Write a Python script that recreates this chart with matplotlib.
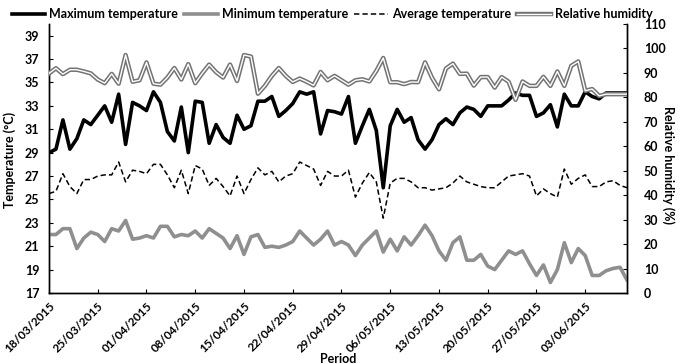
import matplotlib
matplotlib.use("Agg")
import matplotlib.pyplot as plt
import matplotlib.dates as mdates
from matplotlib.lines import Line2D
from matplotlib.legend_handler import HandlerTuple
import pandas as pd

plt.rcParams['font.family'] = ['Lato', 'DejaVu Sans']
plt.rcParams['font.weight'] = 'bold'

start_date = "2015-03-18"

t_max = [29.0, 29.3, 31.8, 29.3, 30.2, 31.8, 31.4, 32.2, 33.0, 31.6,
         34.0, 29.7, 33.3, 33.0, 32.6, 34.2, 33.3, 30.8, 30.0, 32.9,
         29.0, 33.4, 33.3, 29.8, 31.4, 30.3, 29.8, 32.2, 31.0, 31.3,
         33.4, 33.4, 33.8, 32.1, 32.6, 33.2, 34.2, 34.0, 34.2, 30.6,
         32.6, 32.5, 32.3, 33.8, 29.8, 31.3, 32.7, 30.9, 26.0, 31.3,
         32.7, 31.6, 32.0, 30.1, 29.3, 30.1, 31.4, 31.9, 31.4, 32.4,
         32.9, 32.7, 32.1, 33.0, 33.0, 33.0, 33.5, 34.1, 33.9, 33.9,
         32.1, 32.4, 33.1, 31.2, 34.0, 33.0, 33.0, 34.2, 33.8, 33.6,
         34.1, 34.1, 34.1, 34.1]

t_min = [22.0, 22.0, 22.5, 22.5, 20.8, 21.7, 22.2, 22.0, 21.4, 22.5,
         22.3, 23.2, 21.6, 21.7, 21.9, 21.7, 22.7, 22.7, 21.8, 22.0,
         21.9, 22.3, 21.7, 22.5, 22.1, 21.7, 20.8, 21.9, 20.3, 21.8,
         22.0, 20.9, 21.0, 20.9, 21.1, 21.4, 22.3, 21.7, 21.1, 21.6,
         22.3, 21.1, 21.4, 21.1, 20.2, 21.1, 21.7, 22.3, 20.5, 21.6,
         20.6, 21.8, 21.1, 21.9, 22.8, 21.9, 20.6, 19.8, 21.3, 21.8,
         19.8, 19.8, 20.3, 19.3, 19.0, 19.8, 20.6, 20.3, 20.6, 19.5,
         18.5, 19.4, 17.9, 19.0, 21.3, 19.6, 20.8, 20.2, 18.5, 18.5,
         18.9, 19.1, 19.2, 18.1]

t_avg = [25.5, 25.7, 27.2, 26.1, 25.5, 26.7, 26.7, 27.0, 27.1, 27.1,
         28.2, 26.5, 27.5, 27.4, 27.2, 28.0, 28.0, 27.1, 26.0, 27.5,
         25.5, 27.9, 27.6, 26.2, 26.8, 26.1, 25.3, 27.0, 25.5, 26.7,
         27.7, 27.1, 27.4, 26.5, 27.0, 27.2, 28.2, 27.9, 27.6, 26.2,
         27.4, 27.0, 27.0, 27.5, 25.2, 26.4, 27.3, 26.5, 23.4, 26.4,
         26.8, 26.8, 26.5, 26.0, 26.0, 25.8, 25.9, 26.0, 26.4, 27.0,
         26.5, 26.3, 26.1, 26.0, 26.0, 26.5, 27.0, 27.1, 27.2, 27.0,
         25.3, 25.9, 25.5, 25.2, 27.6, 26.3, 26.8, 27.1, 26.1, 26.1,
         26.5, 26.6, 26.2, 26.0]

rh = [89.8, 91.9, 89.5, 91.3, 91.3, 90.6, 89.8, 87.3, 85.8, 89.6,
      85.6, 97.3, 86.4, 87.0, 94.3, 85.6, 85.2, 88.1, 92.0, 87.3,
      93.6, 85.8, 89.8, 93.4, 90.3, 88.1, 93.4, 86.7, 97.3, 96.7,
      81.5, 84.7, 88.8, 92.0, 88.8, 86.3, 87.7, 86.4, 84.9, 90.4,
      87.0, 88.8, 87.0, 85.2, 87.0, 87.4, 86.5, 90.8, 96.1, 86.2,
      86.2, 85.4, 86.3, 86.2, 94.3, 88.0, 83.3, 91.8, 93.8, 89.6,
      89.7, 84.8, 88.3, 88.3, 84.0, 88.3, 86.4, 79.0, 86.5, 84.7,
      84.7, 88.4, 84.7, 90.6, 84.7, 92.9, 94.7, 82.7, 83.4, 80.6,
      81.3, 81.3, 81.3, 81.3]

temp_ticks = list(range(17, 40, 2))
rh_ticks = list(range(0, 111, 10))

dates = pd.date_range(start_date, periods=len(t_max), freq="D")

fig = plt.figure(figsize=(6.78, 3.64), dpi=100)
ax1 = fig.add_axes([49/678, 1-293/364, (627-49)/678, (293-24)/364])
ax2 = ax1.twinx()

ax1.plot(dates, t_max, color='black', lw=2.6, zorder=3)
ax1.plot(dates, t_min, color='#8f8f8f', lw=2.6, zorder=3)
ax1.plot(dates, t_avg, color='black', lw=1.1, ls=(0, (3.5, 2)), zorder=3)
ax2.plot(dates, rh, color='#737373', lw=3.2, zorder=3)
ax2.plot(dates, rh, color='white', lw=1.0, zorder=4)

ax1.set_xlim(dates[0], dates[-1])
ax1.set_ylim(17, 40)
ax2.set_ylim(0, 110)
ax1.set_yticks(temp_ticks)
ax2.set_yticks(rh_ticks)
ax1.set_xticks(dates[::7])
ax1.xaxis.set_major_formatter(mdates.DateFormatter('%d/%m/%Y'))

for lab in ax1.get_xticklabels():
    lab.set_rotation(45)
    lab.set_ha('right')
    lab.set_rotation_mode('anchor')
    lab.set_fontsize(8.5)
    lab.set_fontweight('bold')

ax1.tick_params(axis='x', direction='in', length=3, pad=5)
ax1.tick_params(axis='y', direction='in', length=3, labelsize=9, pad=7)
ax2.tick_params(axis='y', direction='in', length=3, labelsize=9, pad=12)

for ax in (ax1, ax2):
    ax.spines['top'].set_visible(False)
    for s in ('left', 'right', 'bottom'):
        ax.spines[s].set_linewidth(1.0)

fig.text(10/678, 1-160/364, 'Temperature (°C)', rotation=90, ha='center', va='center',
         fontsize=9, fontweight='bold')
fig.text(668/678, 1-165/364, 'Relative humidity (%)', rotation=270, ha='center', va='center',
         fontsize=9, fontweight='bold')
fig.text(338/678, 1-359/364, 'Period', ha='center', va='center', fontsize=9, fontweight='bold')

h_max = Line2D([], [], color='black', lw=2.6)
h_min = Line2D([], [], color='#8f8f8f', lw=2.6)
h_avg = Line2D([], [], color='black', lw=1.1, ls=(0, (3.5, 2)))
h_rh = (Line2D([], [], color='#737373', lw=3.2), Line2D([], [], color='white', lw=1.0))
fig.legend([h_max, h_min, h_avg, h_rh],
           ['Maximum temperature', 'Minimum temperature', 'Average temperature', 'Relative humidity'],
           handler_map={tuple: HandlerTuple(ndivide=1, pad=0)},
           loc='center', bbox_to_anchor=(332/678, 1-14/364), ncol=4, frameon=False,
           handlelength=2.7, handletextpad=0.3, columnspacing=0.5,
           prop={'weight': 'bold', 'size': 9})

fig.savefig('out.png', dpi=100)
